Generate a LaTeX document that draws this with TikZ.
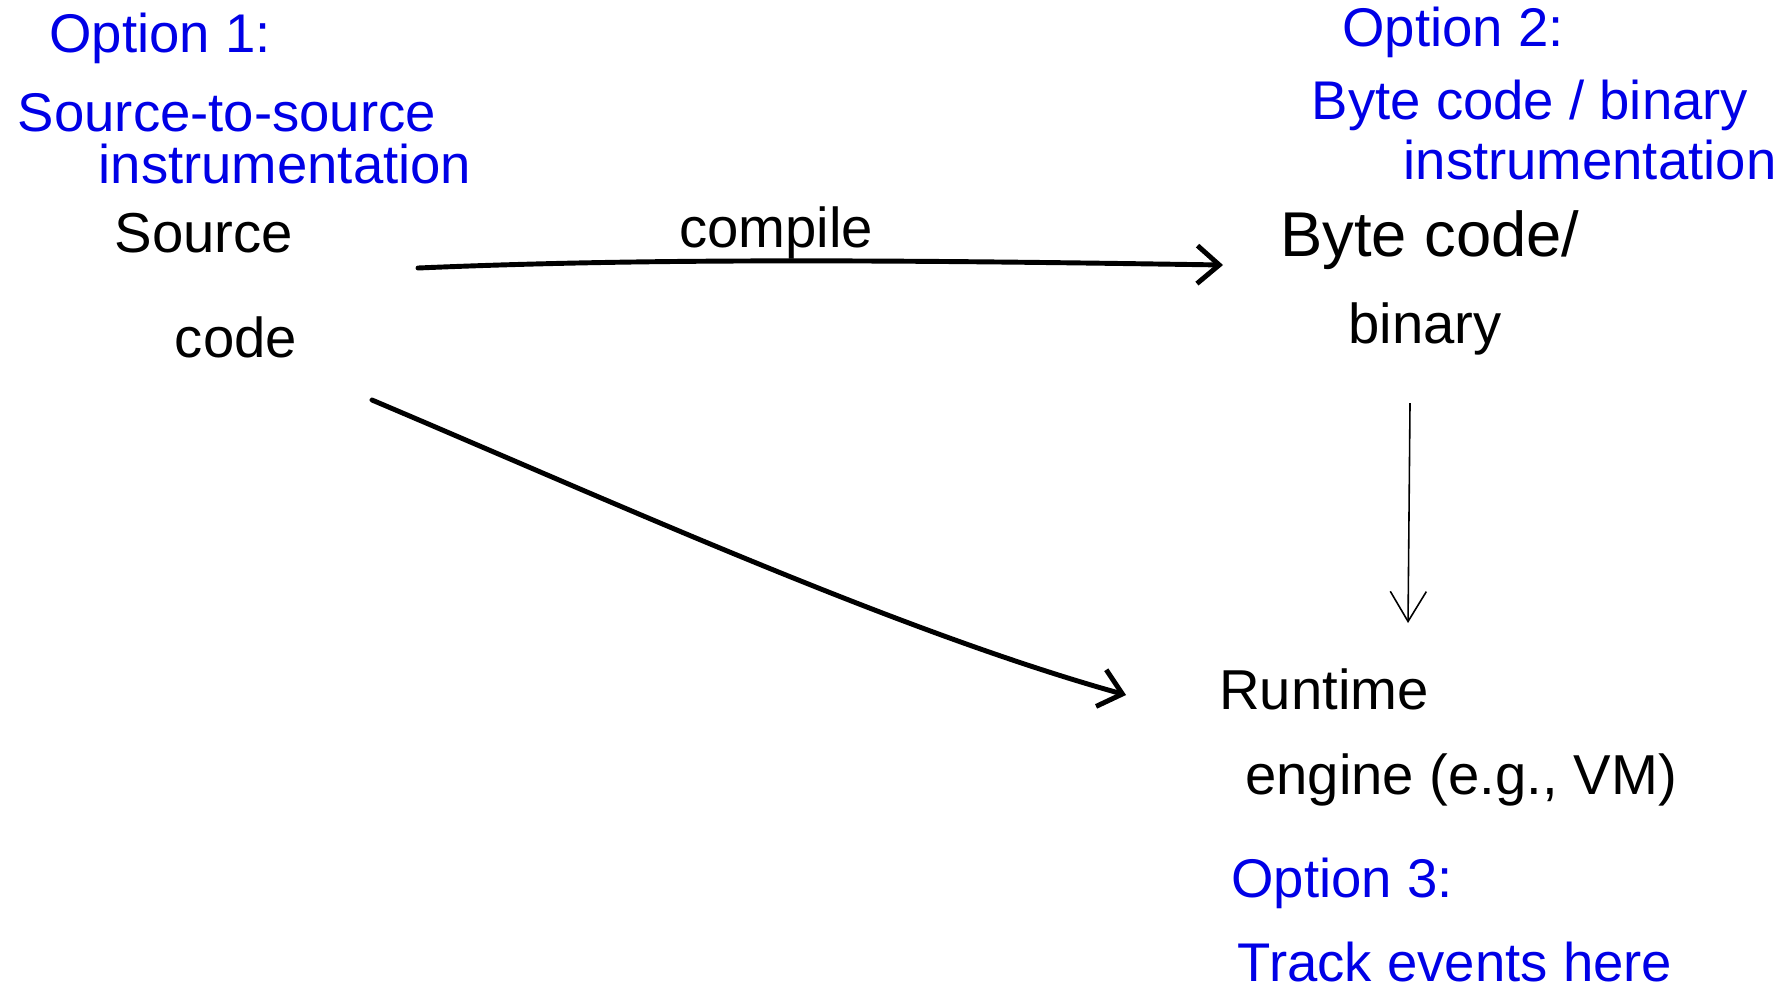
\documentclass[tikz,border=0pt]{standalone}
\usepackage{fontspec}
\setmainfont{Liberation Sans}
\usetikzlibrary{arrows.meta,positioning}
\definecolor{inkblue}{RGB}{0,0,230}
\tikzset{
  ink/.style={inner sep=1pt, font=\fontsize{16}{19}\selectfont, text=black},
  note/.style={inner sep=1pt, font=\fontsize{15.5}{18}\selectfont, text=inkblue},
  pen/.style={line width=1.4pt, line cap=round, -{Straight Barb[length=2.2mm,width=3.8mm]}},
  thinpen/.style={line width=0.45pt, -{Straight Barb[length=3mm,width=3.6mm]}},
}

\begin{document}
\begin{tikzpicture}[x=0.01cm, y=-0.01cm]
  \useasboundingbox (0,0) rectangle (1780,993);
  % stages
  \node[ink] (src) at (204,233) {Source};
  \node[ink] (code) at (236,337) {code};
  \node[ink, font=\fontsize{18}{21}\selectfont] (bc) at (1430,240) {Byte code/};
  \node[ink] (bin) at (1425,329) {binary};
  \node[ink] (rt) at (1324,689) {Runtime};
  \node[ink] (eng) at (1461,780) {engine (e.g., VM)};
  \node[ink] (cmp) at (776,233) {compile};
  % options
  \node[note] (opt1) at (160,38) {Option 1:};
  \node[note] (s2s) at (227,113) {Source-to-source};
  \node[note] (ins1) at (285,164) {instrumentation};
  \node[note] (opt2) at (1453,32) {Option 2:};
  \node[note] (bcb) at (1530,105) {Byte code / binary};
  \node[note] (ins2) at (1590,160) {instrumentation};
  \node[note] (opt3) at (1342,883) {Option 3:};
  \node[note] (track) at (1455,962) {Track events here};
  % arrow ends
  \coordinate (cmpA) at (418,268);
  \coordinate (cmpB) at (1223,265);
  \coordinate (dirA) at (372,400);
  \coordinate (dirB) at (1126,695);
  \coordinate (runA) at (1410,403);
  \coordinate (runB) at (1408,623);
  \draw[pen] (cmpA) .. controls (650,258) and (900,260) .. (cmpB);
  \draw[pen] (dirA) .. controls (620,505) and (900,632) .. (dirB);
  \draw[thinpen] (runA) -- (runB);
\end{tikzpicture}
\end{document}
